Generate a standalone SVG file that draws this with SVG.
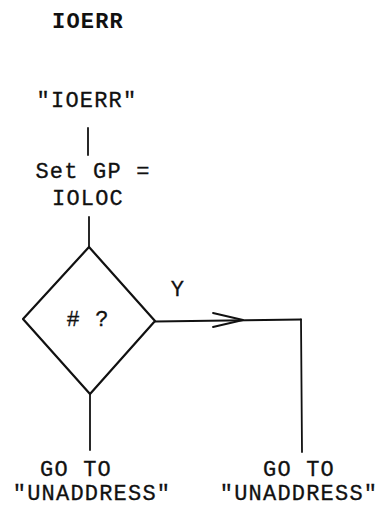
<svg xmlns="http://www.w3.org/2000/svg" width="381" height="507" viewBox="0 0 381 507">
<style>
text{font-family:"Liberation Mono","DejaVu Sans Mono",monospace;font-size:22px;letter-spacing:1.2px;fill:#111;text-anchor:middle;stroke:#111;stroke-width:0.3}
.title{font-weight:bold;stroke-width:0}
.ln{stroke:#111;stroke-width:1.8;fill:none;stroke-linecap:round;stroke-linejoin:round}
.shape{stroke:#111;stroke-width:2.2;fill:#fff;stroke-linejoin:round}
</style>
<rect width="381" height="507" fill="#fff"/>
<g id="title"><text class="title" x="88" y="28">IOERR</text></g>
<g id="connectors">
<line class="ln" x1="88" y1="128" x2="88" y2="155"/>
<line class="ln" x1="89" y1="217" x2="89" y2="247"/>
<line class="ln" x1="155" y1="321.5" x2="301" y2="319.5"/>
<polyline class="ln" points="213,313 243,320 213,327"/>
<line class="ln" x1="301" y1="319.5" x2="302" y2="452"/>
<line class="ln" x1="90" y1="394" x2="90" y2="450"/>
<text x="178" y="296">Y</text>
</g>
<g id="start"><text x="87" y="107">"IOERR"</text></g>
<g id="set"><text x="93" y="178">Set GP =</text><text x="88" y="205">IOLOC</text></g>
<g id="decision"><polygon class="shape" points="89,247 155,321 90,394 23,319"/><text x="88" y="326"># ?</text></g>
<g id="goto-left"><text x="76" y="476">GO TO</text><text x="92" y="500">"UNADDRESS"</text></g>
<g id="goto-right"><text x="299" y="476">GO TO</text><text x="299" y="500">"UNADDRESS"</text></g>
</svg>
